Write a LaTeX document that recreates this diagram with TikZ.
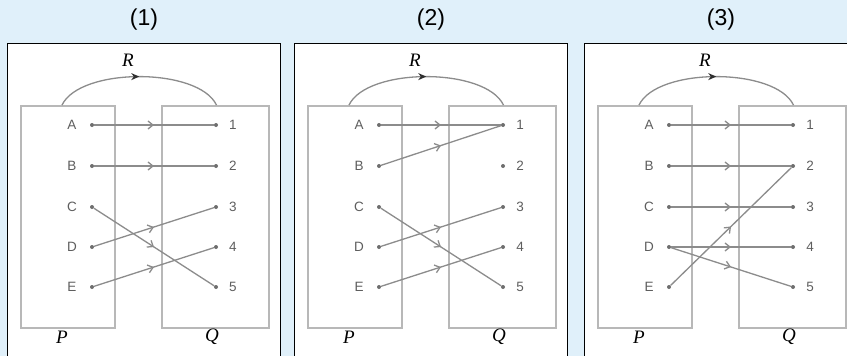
\documentclass[tikz,border=0pt]{standalone}
\usepackage{fontspec}
\setmainfont{Liberation Sans}
\newfontfamily\setfont{Liberation Serif}
\usetikzlibrary{arrows.meta, decorations.markings}
\definecolor{cBg}{HTML}{E0F0FA}
\definecolor{cBox}{HTML}{B8B8B8}
\definecolor{cLine}{HTML}{8C8C8C}
\definecolor{cDot}{HTML}{6E6E6E}
\definecolor{cText}{HTML}{5E5E5E}
\definecolor{cArc}{HTML}{2E2E2E}

\begin{document}
\begin{tikzpicture}[
  x=1pt, y=-1pt,
  frame/.style={draw=black, line width=1pt, fill=white},
  pbox/.style={rectangle, draw=cBox, line width=1.8pt, inner sep=0pt,
    minimum width=94pt, minimum height=222pt},
  qbox/.style={pbox, minimum width=107pt},
  dot/.style={circle, fill=cDot, inner sep=0pt, minimum size=4pt},
  elem/.style={font=\fontsize{13.5}{15}\selectfont, text=cText, inner sep=0pt},
  title/.style={font=\fontsize{23}{27}\selectfont},
  setname/.style={font=\setfont\itshape\fontsize{19}{21}\selectfont, inner sep=0pt},
  link/.style={draw=cLine, line width=1.3pt, postaction={decorate},
    decoration={markings, mark=at position 0.5 with
      {\arrow[cLine]{Straight Barb[length=5pt, width=8pt]}}}},
  rel/.style={draw=cLine, line width=1.3pt, postaction={decorate},
    decoration={markings, mark=at position 0.5 with
      {\arrow[cArc]{Stealth[length=8pt, width=7pt]}}}}
]

  \fill[cBg] (0,0) rectangle (847,356);
  \clip (0,0) rectangle (847,356);

  % common parts of the three panels
  \foreach \i/\dx in {1/0, 2/287, 3/577} {
    \begin{scope}[xshift=\dx]
      \draw[frame] (7,43) rectangle (280,372);
      \node[title] (t\i) at (144,20) {(\i)};
      \node[pbox] (P\i) at (68,217) {};
      \node[qbox] (Q\i) at (215.5,217) {};
      \draw[rel] ([xshift=-6pt]P\i.north) .. controls +(18,-38) and +(-18,-38) .. ([xshift=1pt]Q\i.north);
      \node[setname] (r\i) at (128,60) {R};
      \node[setname] (pn\i) at (62,337) {P};
      \node[setname] (qn\i) at (212,337) {Q};
      \foreach \e/\n/\y in {A/1/125, B/2/166, C/3/207, D/4/247, E/5/287} {
        \node[elem] (l\i\e) at (72,\y) {\e};
        \node[dot] (p\i\e) at (92,\y) {};
        \node[dot] (q\i\n) at (216,\y) {};
        \node[elem] (n\i\n) at (233,\y) {\n};
      }
    \end{scope}
  }

  % (1)
  \draw[link] (p1A) -- (q11);
  \draw[link] (p1B) -- (q12);
  \draw[link] (p1C) -- (q15);
  \draw[link] (p1D) -- (q13);
  \draw[link] (p1E) -- (q14);

  % (2)
  \draw[link] (p2A) -- (q21);
  \draw[link] (p2B) -- (q21);
  \draw[link] (p2C) -- (q25);
  \draw[link] (p2D) -- (q23);
  \draw[link] (p2E) -- (q24);

  % (3)
  \draw[link] (p3A) -- (q31);
  \draw[link] (p3B) -- (q32);
  \draw[link] (p3C) -- (q33);
  \draw[link] (p3D) -- (q34);
  \draw[link] (p3D) -- (q35);
  \draw[link] (p3E) -- (q32);

\end{tikzpicture}
\end{document}
